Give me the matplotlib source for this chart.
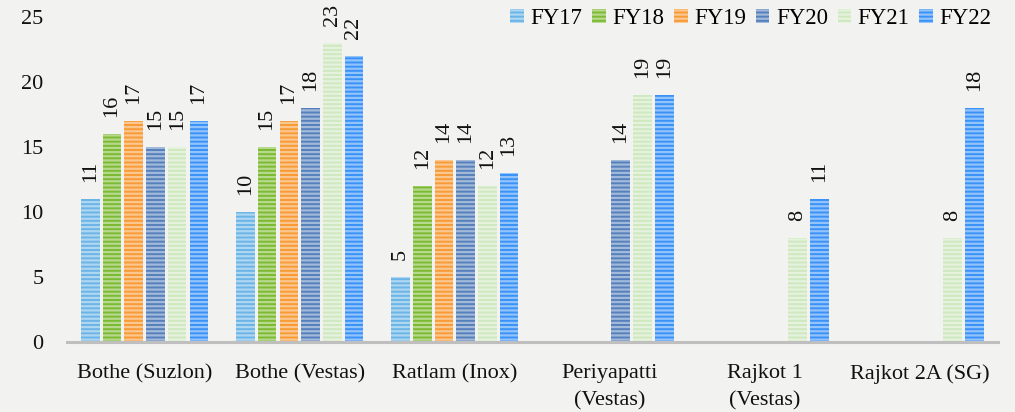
import numpy as np
import matplotlib.pyplot as plt
import matplotlib.colors as mcolors

# data
sites = ['Bothe (Suzlon)', 'Bothe (Vestas)', 'Ratlam (Inox)',
         'Periyapatti\n(Vestas)', 'Rajkot 1\n(Vestas)', 'Rajkot 2A (SG)']
years = ['FY17', 'FY18', 'FY19', 'FY20', 'FY21', 'FY22']
fy17 = [11, 10, 5, np.nan, np.nan, np.nan]
fy18 = [16, 15, 12, np.nan, np.nan, np.nan]
fy19 = [17, 17, 14, np.nan, np.nan, np.nan]
fy20 = [15, 18, 14, 14, np.nan, np.nan]
fy21 = [15, 23, 12, 19, 8, 8]
fy22 = [17, 22, 13, 19, 11, 18]
series = [fy17, fy18, fy19, fy20, fy21, fy22]

colors = ['#6ab4e6', '#7cba32', '#f89a35', '#5580bb', '#cfe8c0', '#3a92f7']
bg = '#f2f2f1'

plt.rcParams['font.family'] = ['Liberation Serif', 'DejaVu Serif']
plt.rcParams['hatch.linewidth'] = 1.6

fig = plt.figure(figsize=(10.15, 4.12), dpi=100, facecolor=bg)
ax = fig.add_axes([0.066, 0.170, 0.917, 0.789])
ax.set_facecolor(bg)

x = np.arange(len(sites))
pitch = 0.14
width = 0.12

for i, (vals, col) in enumerate(zip(series, colors)):
    light = mcolors.to_rgb(col)
    light = tuple(c + (1 - c) * 0.45 for c in light)
    pos = x + (i - 2.5) * pitch
    ax.bar(pos, vals, width, color=col, edgecolor=light,
           linewidth=0, hatch='----', label=years[i])
    for xp, v in zip(pos, vals):
        if np.isnan(v):
            continue
        ax.text(xp, v + 1.3, str(int(v)), rotation=90, ha='center',
                va='bottom', fontsize=16, color='#111111')

ax.set_xlim(-0.5, 5.5)
ax.set_ylim(0, 25)
ax.set_yticks(range(0, 26, 5))
ax.set_xticks(x)
ax.set_xticklabels(sites, fontsize=16, linespacing=1.55)
ax.tick_params(axis='both', length=0, labelsize=16, colors='#111111')
ax.tick_params(axis='y', pad=17)
ax.tick_params(axis='x', pad=16)
for side in ['top', 'right', 'left']:
    ax.spines[side].set_visible(False)
ax.spines['bottom'].set_color('#bfbfbf')
ax.spines['bottom'].set_linewidth(2.2)

leg = ax.legend(loc='upper right', bbox_to_anchor=(1.003, 1.055), ncol=6,
                frameon=False, fontsize=16.5, handlelength=0.6, handleheight=0.6,
                handletextpad=0.28, columnspacing=0.42, borderaxespad=0)

fig.savefig('out.png', dpi=100, facecolor=bg)
